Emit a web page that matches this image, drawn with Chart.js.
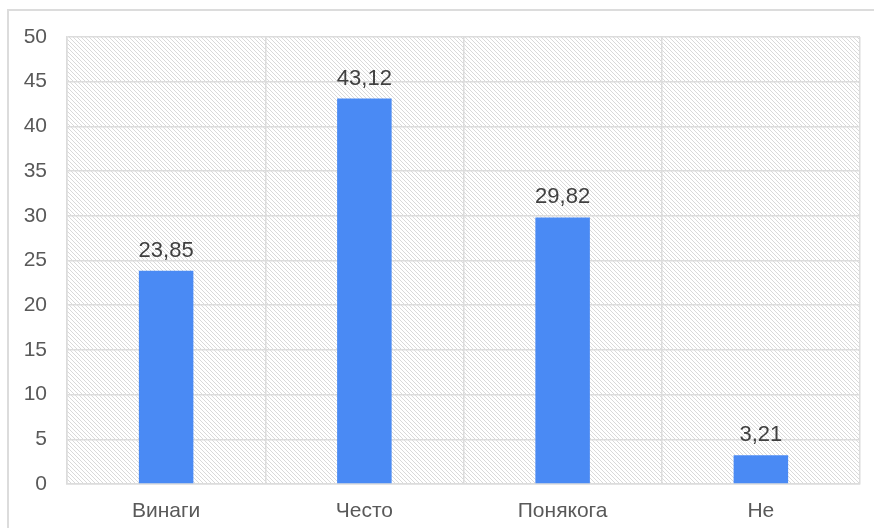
<!DOCTYPE html>
<html lang="bg">
<head>
    <meta charset="UTF-8">
    <script src="https://cdn.jsdelivr.net/npm/chart.js"></script>
    <style>
        body {
            margin: 0;
            background: #ffffff;
            overflow: hidden;
        }
        .frame {
            position: absolute;
            left: 7px;
            top: 9px;
            width: 900px;
            height: 560px;
            border: 2px solid #dcdcdc;
        }
        .chart-box {
            position: absolute;
            left: 0;
            top: 0;
            width: 874px;
            height: 528px;
        }
    </style>
</head>
<body>
    <div class="frame"></div>
    <div class="chart-box">
        <canvas id="chart"></canvas>
    </div>

    <script>
        const categories = ['Винаги', 'Често', 'Понякога', 'Не'];
        const values = [23.85, 43.12, 29.82, 3.21];
        const yTicks = [0, 5, 10, 15, 20, 25, 30, 35, 40, 45, 50];

        // диагонална щриховка за фона на графиката
        function makeHatch() {
            const c = document.createElement('canvas');
            c.width = 8;
            c.height = 8;
            const g = c.getContext('2d');
            g.strokeStyle = '#d9d9d9';
            g.lineWidth = 1;
            for (let k = -8; k <= 8; k += 4) {
                g.beginPath();
                g.moveTo(k, 0);
                g.lineTo(k + 8, 8);
                g.stroke();
            }
            return g.createPattern(c, 'repeat');
        }

        const hatchBg = {
            id: 'hatchBg',
            beforeDraw(chart) {
                const a = chart.chartArea;
                const ctx = chart.ctx;
                ctx.save();
                ctx.fillStyle = makeHatch();
                ctx.fillRect(a.left, a.top, a.right - a.left, a.bottom - a.top);
                ctx.restore();
            }
        };

        const valueLabels = {
            id: 'valueLabels',
            afterDatasetsDraw(chart) {
                const ctx = chart.ctx;
                const meta = chart.getDatasetMeta(0);
                ctx.save();
                ctx.font = '22px "Liberation Sans", Arial, sans-serif';
                ctx.fillStyle = '#404040';
                ctx.textAlign = 'center';
                ctx.textBaseline = 'alphabetic';
                meta.data.forEach((bar, i) => {
                    const txt = values[i].toFixed(2).replace('.', ',');
                    ctx.fillText(txt, bar.x, bar.y - 14);
                });
                ctx.restore();
            }
        };

        new Chart(document.getElementById('chart'), {
            type: 'bar',
            data: {
                labels: categories,
                datasets: [{
                    data: values,
                    backgroundColor: '#4a8af4',
                    borderWidth: 0,
                    categoryPercentage: 1,
                    barPercentage: 0.275
                }]
            },
            options: {
                responsive: true,
                maintainAspectRatio: false,
                animation: false,
                layout: {
                    padding: { top: 37, right: 14, left: 0, bottom: 0 }
                },
                scales: {
                    x: {
                        grid: {
                            color: '#dcdcdc',
                            lineWidth: 1.5,
                            drawTicks: false,
                            offset: true
                        },
                        border: { color: '#dcdcdc', width: 1.5 },
                        ticks: {
                            color: '#595959',
                            padding: 15,
                            font: { size: 21, family: '"Liberation Sans", Arial, sans-serif' }
                        },
                        afterFit(scale) { scale.height = 44; }
                    },
                    y: {
                        min: 0,
                        max: 50,
                        afterBuildTicks(scale) {
                            scale.ticks = yTicks.map(v => ({ value: v }));
                        },
                        grid: {
                            color: '#dcdcdc',
                            lineWidth: 1.5,
                            drawTicks: false
                        },
                        border: { color: '#dcdcdc', width: 1.5 },
                        ticks: {
                            color: '#595959',
                            padding: 20,
                            font: { size: 21, family: '"Liberation Sans", Arial, sans-serif' }
                        },
                        afterFit(scale) { scale.width = 67; }
                    }
                },
                plugins: {
                    legend: { display: false },
                    tooltip: { enabled: false }
                }
            },
            plugins: [hatchBg, valueLabels]
        });
    </script>
</body>
</html>
